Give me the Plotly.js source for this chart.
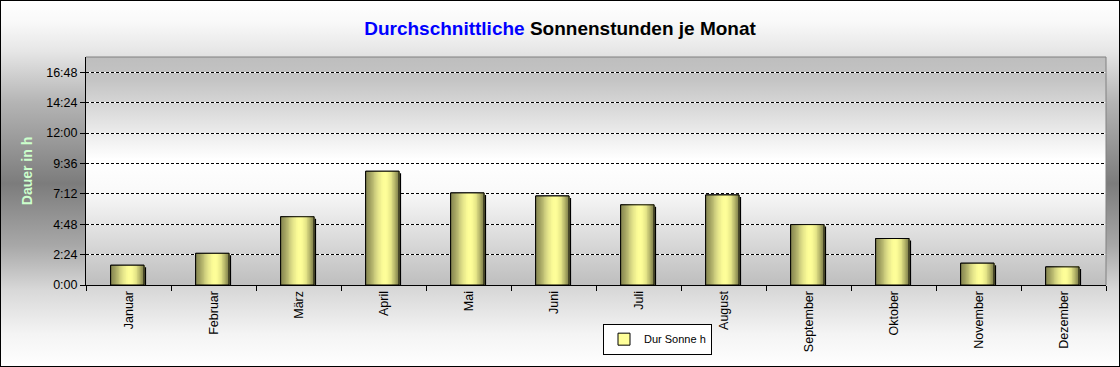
<!DOCTYPE html>
<html>
<head>
<meta charset="utf-8">
<script src="https://cdn.plot.ly/plotly-3.0.1.min.js"></script>
<style>
html,body{margin:0;padding:0;background:#fff;}
#chart{width:1120px;height:367px;position:relative;
background:linear-gradient(to bottom,#ffffff 0%,#f9f9f9 6%,#e6e6e6 14%,#b4b4b4 28%,#7c7c7c 50%,#a8a8a8 67%,#d8d8d8 79%,#f4f4f4 91%,#ffffff 100%);
outline:1px solid #000;outline-offset:-1px;}
</style>
</head>
<body>
<div id="chart"></div>
<script>
// ---- data ----
const months = ['Januar','Februar','März','April','Mai','Juni','Juli','August','September','Oktober','November','Dezember'];
const sunHours = [1.56, 2.50, 5.39, 8.98, 7.27, 7.03, 6.33, 7.11, 4.77, 3.67, 1.72, 1.43];
const seriesName = 'Dur Sonne h';
const yTickVals = [0, 2.4, 4.8, 7.2, 9.6, 12, 14.4, 16.8];
const yTickText = ['0:00','2:24','4:48','7:12','9:36','12:00','14:24','16:48'];

// ---- styling ----
const FONT = 'Liberation Sans, Arial, sans-serif';
const W = 0.393;          // bar width (category units)
const OFF = -0.21;        // bar offset
const SH_X = 0.024;       // shadow shift right
const SH_Y = 0.16;        // shadow drop (hours)
const N = 24;             // gradient strips
const stops = [[0,[0x84,0x84,0x50]],[0.15,[0xa6,0xa6,0x64]],[0.33,[0xdc,0xdc,0x86]],[0.5,[0xfb,0xfb,0x97]],[0.62,[0xff,0xff,0x99]],[0.76,[0xe6,0xe6,0x88]],[0.9,[0xa8,0xa8,0x62]],[1,[0x78,0x78,0x46]]];
function colAt(t){
  for(let i=1;i<stops.length;i++){
    if(t<=stops[i][0]){
      const a=stops[i-1], b=stops[i], f=(t-a[0])/(b[0]-a[0]);
      const c=a[1].map((v,k)=>Math.round(v+(b[1][k]-v)*f));
      return 'rgb('+c.join(',')+')';
    }
  }
  return 'rgb('+stops[stops.length-1][1].join(',')+')';
}

const traces = [];
// shadow
traces.push({type:'bar', x:months, y:sunHours.map(v=>v-SH_Y), width:W, offset:OFF+SH_X,
  marker:{color:'#000', line:{width:0}}, showlegend:false, hoverinfo:'skip'});
// base (legend) trace
traces.push({type:'bar', name:seriesName, x:months, y:sunHours, width:W, offset:OFF,
  marker:{color:'#ffff99', line:{color:'#000', width:1}}, showlegend:true});
// gradient strips
for(let i=0;i<N;i++){
  traces.push({type:'bar', x:months, y:sunHours, width:W-i*W/N, offset:OFF+i*W/N,
    marker:{color:colAt((i+0.5)/N), line:{width:0}}, showlegend:false, hoverinfo:'skip'});
}
// outline
traces.push({type:'bar', x:months, y:sunHours, width:W, offset:OFF,
  marker:{color:'rgba(0,0,0,0)', line:{color:'#000', width:1}}, showlegend:false, hoverinfo:'skip'});
// dummy on y2 for dashed grid
traces.push({type:'scatter', mode:'markers', x:[months[0]], y:[null], yaxis:'y2', showlegend:false, hoverinfo:'skip'});

const gradSvg = "<svg xmlns='http://www.w3.org/2000/svg' width='100' height='100' viewBox='0 0 100 100' preserveAspectRatio='none'><defs><linearGradient id='g' x1='0' y1='0' x2='0' y2='1'><stop offset='0' stop-color='#bebebe'/><stop offset='0.1' stop-color='#c4c4c4'/><stop offset='0.45' stop-color='#ffffff'/><stop offset='0.58' stop-color='#fafafa'/><stop offset='1' stop-color='#bebebe'/></linearGradient></defs><rect width='100' height='100' fill='url(#g)'/></svg>";

const layout = {
  width:1120, height:367,
  margin:{l:86, r:14, t:57, b:80, pad:0},
  paper_bgcolor:'rgba(0,0,0,0)',
  plot_bgcolor:'rgba(0,0,0,0)',
  font:{family:FONT, size:12, color:'#000'},
  barmode:'overlay',
  title:{
    text:"<span style='color:#0000ff'>Durchschnittliche</span> Sonnenstunden je Monat",
    font:{family:FONT, size:19, color:'#000', weight:'bold'},
    x:0.5, xref:'container', xanchor:'center',
    y:1-28/367, yref:'container', yanchor:'middle'
  },
  xaxis:{
    type:'category', range:[-0.5, 11.5], autorange:false, automargin:false,
    tickson:'boundaries', ticks:'outside', ticklen:5, tickcolor:'#000', tickwidth:1,
    showline:true, linecolor:'#000', linewidth:1, showgrid:false, zeroline:false,
    tickangle:-90, tickfont:{family:FONT, size:12.5, color:'#000'}, fixedrange:true
  },
  yaxis:{
    range:[0,18], autorange:false, automargin:false, tickmode:'array', tickvals:yTickVals, ticktext:yTickText,
    ticks:'outside', ticklen:5, tickcolor:'#000', tickwidth:1,
    showline:true, linecolor:'#000', linewidth:1,
    showgrid:true, gridcolor:'#ffffff', gridwidth:1, zeroline:false,
    tickfont:{family:FONT, size:12.5, color:'#000'},
    title:{text:'Dauer in h', font:{family:FONT, size:14, color:'#ccffcc', weight:'bold'}, standoff:10},
    fixedrange:true
  },
  yaxis2:{
    overlaying:'y', anchor:'x', side:'left', range:[0,18], autorange:false, automargin:false,
    tickmode:'array', tickvals:yTickVals, showticklabels:false, ticks:'',
    showline:false, showgrid:true, gridcolor:'#000', gridwidth:1, griddash:'3px,2px', zeroline:false,
    fixedrange:true
  },
  legend:{
    x:(712-86)/1020, xanchor:'right', y:(287-326)/230, yanchor:'top',
    bgcolor:'#ffffff', bordercolor:'#000', borderwidth:1,
    font:{family:FONT, size:11, color:'#000'}, itemwidth:30, tracegroupgap:0
  },
  images:[{
    source:'data:image/svg+xml;charset=utf-8,'+encodeURIComponent(gradSvg),
    xref:'paper', yref:'paper', x:0, y:1, sizex:1, sizey:1,
    xanchor:'left', yanchor:'top', sizing:'stretch', layer:'below'
  }],
  shapes:[{
    type:'path', xref:'paper', yref:'paper', path:'M0,1L1,1L1,0',
    line:{color:'#808080', width:1}, layer:'above'
  }],
  hovermode:false
};

Plotly.newPlot('chart', traces, layout, {displayModeBar:false, staticPlot:true});
</script>
</body>
</html>
